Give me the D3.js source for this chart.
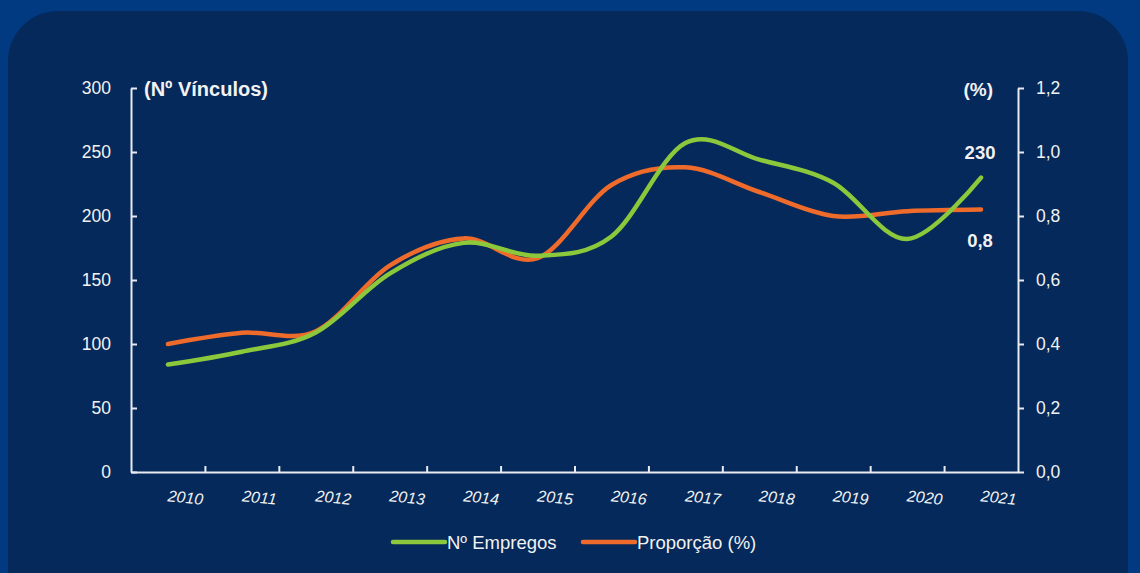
<!DOCTYPE html>
<html>
<head>
<meta charset="utf-8">
<script src="https://cdn.jsdelivr.net/npm/d3@7"></script>
<style>
  html, body { margin: 0; padding: 0; background: #023a82; }
  svg { display: block; }
  text { font-family: "Liberation Sans", Arial, sans-serif; fill: #f2f2f2; }
</style>
</head>
<body>
<svg id="chart" width="1140" height="573"></svg>
<script>
// Years on the horizontal axis
const years = ["2010", "2011", "2012", "2013", "2014", "2015", "2016", "2017", "2018", "2019", "2020", "2021"];
// Nº Empregos (left axis, number of jobs)
const empregos = [84, 94, 109, 155, 179, 169, 184, 257, 244, 226, 182, 230];
// Proporção (%) (right axis)
const proporcao = [0.40, 0.435, 0.44, 0.645, 0.73, 0.668, 0.897, 0.952, 0.875, 0.80, 0.815, 0.82];
// Axis tick values
const leftTicks = [0, 50, 100, 150, 200, 250, 300];
const rightTicks = [0, 0.2, 0.4, 0.6, 0.8, 1.0, 1.2];
const seriesNames = ["Nº Empregos", "Proporção (%)"];

const GREEN = "#8bc83c";
const ORANGE = "#ef6b2b";
const AXIS = "#e8ecf2";

const svg = d3.select("#chart");

// Dark panel with rounded corners
svg.append("rect")
  .attr("x", 0).attr("y", 0).attr("width", 1140).attr("height", 573)
  .attr("fill", "#023a82");
svg.append("rect")
  .attr("x", 8).attr("y", 11).attr("width", 1120).attr("height", 640)
  .attr("rx", 50).attr("ry", 50)
  .attr("fill", "#04295a");

const plotLeft = 131, plotRight = 1018, plotTop = 88, plotBottom = 472;

const x = d3.scaleBand().domain(years).range([plotLeft, plotRight]).padding(0);
const xEdge = d3.scaleLinear().domain([0, years.length]).range([plotLeft, plotRight]);
const yL = d3.scaleLinear().domain([0, 300]).range([plotBottom, plotTop]);
const yR = d3.scaleLinear().domain([0, 1.2]).range([plotBottom, plotTop]);
const cx = d => x(d) + x.bandwidth() / 2;

const ptLocale = d3.formatLocale({ decimal: ",", thousands: ".", grouping: [3], currency: ["", ""] });
const f1 = ptLocale.format(".1f");

function styleAxis(g) {
  g.selectAll("path.domain").attr("stroke", AXIS).attr("stroke-width", 2);
  g.selectAll(".tick line").attr("stroke", AXIS).attr("stroke-width", 2);
  g.selectAll("text").attr("fill", "#f2f2f2")
    .style("font-family", '"Liberation Sans", Arial, sans-serif');
}

// Left axis (ticks point inward)
svg.append("g")
  .attr("transform", `translate(${plotLeft},0)`)
  .call(d3.axisLeft(yL).tickValues(leftTicks).tickSizeInner(-6).tickSizeOuter(0).tickPadding(20))
  .call(styleAxis)
  .selectAll("text").style("font-size", "17.5px");

// Right axis
svg.append("g")
  .attr("transform", `translate(${plotRight},0)`)
  .call(d3.axisRight(yR).tickValues(rightTicks).tickFormat(f1).tickSizeInner(6).tickSizeOuter(0).tickPadding(12))
  .call(styleAxis)
  .selectAll("text").style("font-size", "17.5px");

// Bottom axis: baseline with ticks at year boundaries
svg.append("g")
  .attr("transform", `translate(0,${plotBottom})`)
  .call(d3.axisBottom(xEdge).tickValues(d3.range(1, years.length)).tickFormat("").tickSizeInner(-6).tickSizeOuter(0))
  .call(styleAxis);

// Year labels (tilted italic)
const xl = svg.append("g")
  .attr("transform", `translate(0,${plotBottom})`)
  .call(d3.axisBottom(x).tickSize(0).tickPadding(0));
xl.select("path.domain").remove();
xl.selectAll(".tick text")
  .attr("y", 0).attr("dy", 0)
  .attr("transform", "translate(17,31) rotate(6)")
  .style("font-size", "16px")
  .style("font-style", "italic")
  .attr("fill", "#f2f2f2")
  .style("font-family", '"Liberation Sans", Arial, sans-serif');

// Axis titles
svg.append("text").attr("x", 144).attr("y", 96)
  .style("font-size", "20px").style("font-weight", "bold")
  .text("(Nº Vínculos)");
svg.append("text").attr("x", 993).attr("y", 96).attr("text-anchor", "end")
  .style("font-size", "19px").style("font-weight", "bold")
  .text("(%)");

// Smoothed lines
const lineL = d3.line().x((d, i) => cx(years[i])).y(d => yL(d)).curve(d3.curveCatmullRom.alpha(0));
const lineR = d3.line().x((d, i) => cx(years[i])).y(d => yR(d)).curve(d3.curveCatmullRom.alpha(0));

svg.append("path").datum(proporcao)
  .attr("d", lineR).attr("fill", "none")
  .attr("stroke", ORANGE).attr("stroke-width", 4.5).attr("stroke-linecap", "round");
svg.append("path").datum(empregos)
  .attr("d", lineL).attr("fill", "none")
  .attr("stroke", GREEN).attr("stroke-width", 4.5).attr("stroke-linecap", "round");

// End-value labels
const last = years.length - 1;
svg.append("text")
  .attr("x", cx(years[last]) - 1).attr("y", yL(empregos[last]) - 19)
  .attr("text-anchor", "middle")
  .style("font-size", "18.5px").style("font-weight", "bold")
  .text(d3.format("d")(empregos[last]));
svg.append("text")
  .attr("x", cx(years[last]) - 1).attr("y", yR(proporcao[last]) + 37)
  .attr("text-anchor", "middle")
  .style("font-size", "18.5px").style("font-weight", "bold")
  .text(f1(proporcao[last]));

// Legend
const legend = svg.append("g").attr("transform", "translate(0,542)");
const legendItems = [
  { name: seriesNames[0], color: GREEN, x0: 393 },
  { name: seriesNames[1], color: ORANGE, x0: 583 }
];
legendItems.forEach(it => {
  legend.append("line")
    .attr("x1", it.x0).attr("x2", it.x0 + 52).attr("y1", 0).attr("y2", 0)
    .attr("stroke", it.color).attr("stroke-width", 4.5).attr("stroke-linecap", "round");
  legend.append("text")
    .attr("x", it.x0 + 54).attr("y", 6.5)
    .style("font-size", "18.5px")
    .text(it.name);
});
</script>
</body>
</html>
